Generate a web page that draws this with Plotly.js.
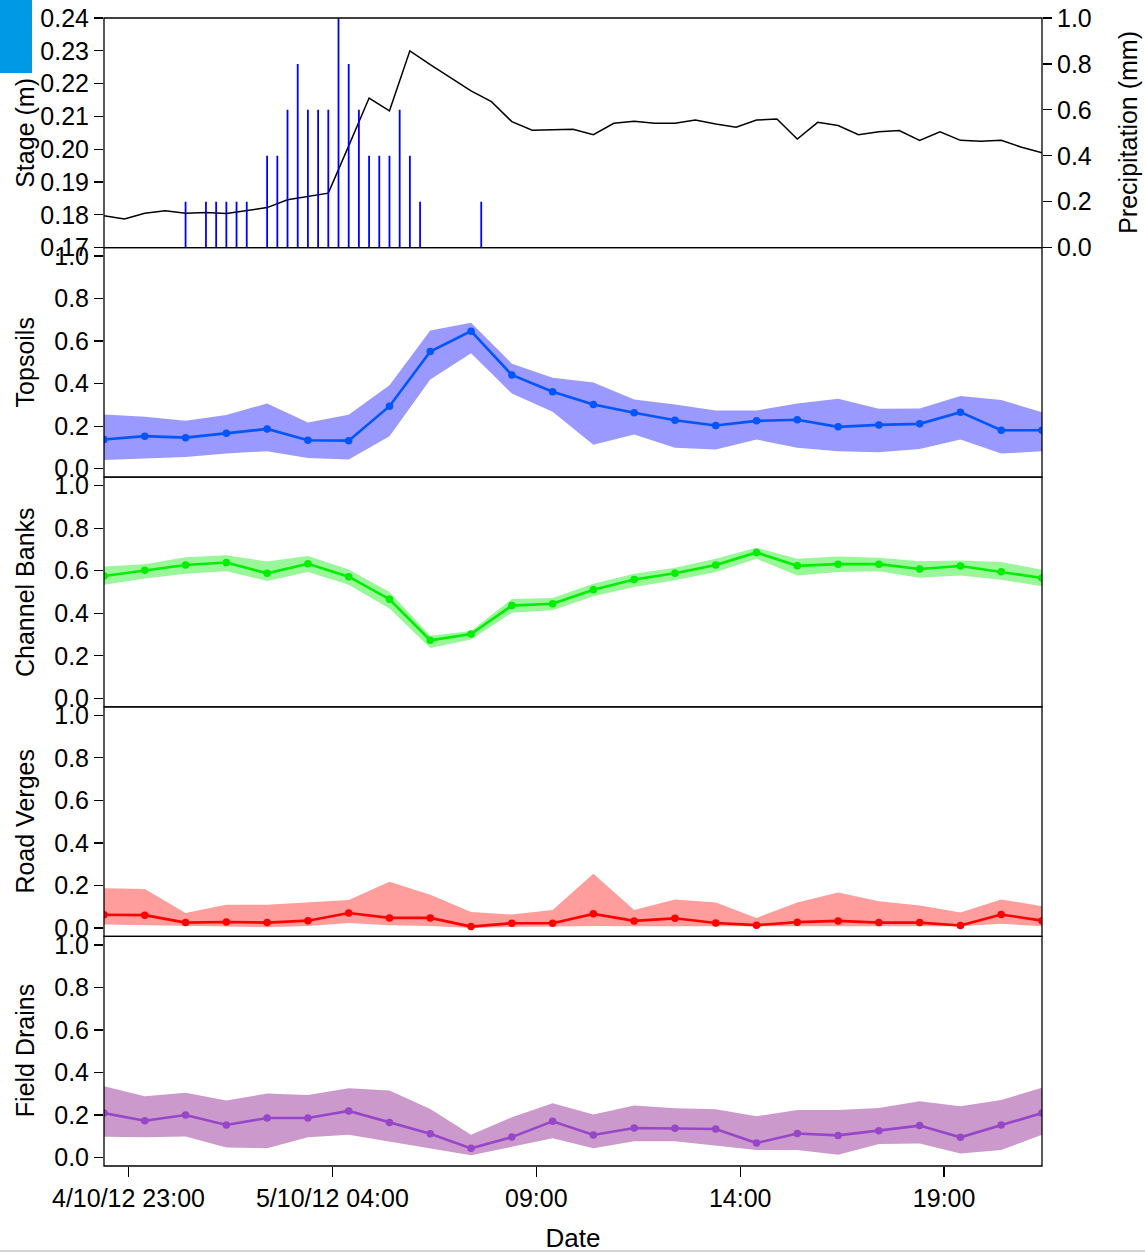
<!DOCTYPE html>
<html><head><meta charset="utf-8">
<script src="https://cdn.plot.ly/plotly-3.0.1.min.js"></script>
<style>html,body{margin:0;padding:0;background:#fff}#chart{width:1145px;height:1253px}</style>
</head><body><div id="chart"></div>
<script>
// ---------- data ----------
const stageTimes = [
 '2012-10-04 22:24','2012-10-04 22:54','2012-10-04 23:24','2012-10-04 23:54',
 '2012-10-05 00:24','2012-10-05 00:54','2012-10-05 01:24','2012-10-05 01:54',
 '2012-10-05 02:24','2012-10-05 02:54','2012-10-05 03:24','2012-10-05 03:54',
 '2012-10-05 04:24','2012-10-05 04:54','2012-10-05 05:24','2012-10-05 05:54',
 '2012-10-05 06:24','2012-10-05 06:54','2012-10-05 07:24','2012-10-05 07:54',
 '2012-10-05 08:24','2012-10-05 08:54','2012-10-05 09:24','2012-10-05 09:54',
 '2012-10-05 10:24','2012-10-05 10:54','2012-10-05 11:24','2012-10-05 11:54',
 '2012-10-05 12:24','2012-10-05 12:54','2012-10-05 13:24','2012-10-05 13:54',
 '2012-10-05 14:24','2012-10-05 14:54','2012-10-05 15:24','2012-10-05 15:54',
 '2012-10-05 16:24','2012-10-05 16:54','2012-10-05 17:24','2012-10-05 17:54',
 '2012-10-05 18:24','2012-10-05 18:54','2012-10-05 19:24','2012-10-05 19:54',
 '2012-10-05 20:24','2012-10-05 20:54','2012-10-05 21:24'];
const stageValues = [0.1797,0.1787,0.1805,0.1812,0.1805,0.1807,0.1804,0.1812,
 0.1822,0.1846,0.1856,0.1866,0.2010,0.2156,0.2117,0.2300,0.2258,0.2217,0.2178,
 0.2145,0.2084,0.2058,0.2060,0.2061,0.2044,0.2079,0.2085,0.2079,0.2079,0.2089,
 0.2077,0.2067,0.2089,0.2092,0.2031,0.2082,0.2072,0.2044,0.2053,0.2057,0.2027,
 0.2053,0.2027,0.2024,0.2027,0.2006,0.1989];

const precipTimes = [
 '2012-10-05 00:24','2012-10-05 00:54','2012-10-05 01:09','2012-10-05 01:24',
 '2012-10-05 01:39','2012-10-05 01:54','2012-10-05 02:24','2012-10-05 02:39',
 '2012-10-05 02:54','2012-10-05 03:09','2012-10-05 03:24','2012-10-05 03:39',
 '2012-10-05 03:54','2012-10-05 04:09','2012-10-05 04:24','2012-10-05 04:39',
 '2012-10-05 04:54','2012-10-05 05:09','2012-10-05 05:24','2012-10-05 05:39',
 '2012-10-05 05:54','2012-10-05 06:09','2012-10-05 07:39'];
const precipValues = [0.2,0.2,0.2,0.2,0.2,0.2,0.4,0.4,0.6,0.8,0.6,0.6,0.6,1.0,
 0.8,0.6,0.4,0.4,0.4,0.6,0.4,0.2,0.2];

const soilTimes = [
 '2012-10-04 22:24','2012-10-04 23:24','2012-10-05 00:24','2012-10-05 01:24',
 '2012-10-05 02:24','2012-10-05 03:24','2012-10-05 04:24','2012-10-05 05:24',
 '2012-10-05 06:24','2012-10-05 07:24','2012-10-05 08:24','2012-10-05 09:24',
 '2012-10-05 10:24','2012-10-05 11:24','2012-10-05 12:24','2012-10-05 13:24',
 '2012-10-05 14:24','2012-10-05 15:24','2012-10-05 16:24','2012-10-05 17:24',
 '2012-10-05 18:24','2012-10-05 19:24','2012-10-05 20:24','2012-10-05 21:24'];

const topsoilsMean  = [0.137,0.153,0.146,0.167,0.187,0.134,0.132,0.294,0.551,0.647,0.441,0.362,0.302,0.263,0.228,0.203,0.225,0.230,0.197,0.206,0.211,0.266,0.181,0.181];
const topsoilsUpper = [0.255,0.244,0.225,0.252,0.307,0.217,0.254,0.392,0.650,0.687,0.494,0.428,0.405,0.326,0.302,0.274,0.274,0.307,0.329,0.282,0.283,0.342,0.323,0.266];
const topsoilsLower = [0.041,0.049,0.055,0.072,0.082,0.050,0.043,0.153,0.420,0.543,0.354,0.268,0.113,0.161,0.098,0.090,0.137,0.098,0.082,0.077,0.093,0.137,0.071,0.082];

const banksMean  = [0.575,0.602,0.627,0.639,0.588,0.633,0.572,0.466,0.273,0.302,0.436,0.445,0.511,0.559,0.588,0.627,0.686,0.623,0.631,0.631,0.608,0.622,0.595,0.566];
const banksUpper = [0.620,0.630,0.664,0.673,0.644,0.669,0.606,0.500,0.294,0.317,0.467,0.472,0.539,0.586,0.614,0.656,0.708,0.656,0.667,0.661,0.645,0.648,0.641,0.605];
const banksLower = [0.534,0.563,0.586,0.598,0.552,0.594,0.534,0.422,0.236,0.277,0.402,0.414,0.480,0.523,0.555,0.594,0.656,0.578,0.594,0.598,0.567,0.578,0.558,0.527];

const vergesMean  = [0.062,0.060,0.025,0.028,0.025,0.034,0.070,0.047,0.047,0.006,0.022,0.022,0.066,0.033,0.045,0.023,0.013,0.027,0.033,0.025,0.025,0.011,0.063,0.034];
const vergesUpper = [0.186,0.183,0.070,0.109,0.109,0.119,0.131,0.217,0.156,0.075,0.063,0.084,0.255,0.084,0.134,0.119,0.047,0.120,0.167,0.125,0.105,0.072,0.134,0.102];
const vergesLower = [0.016,0.013,0.008,0.006,0.003,0.009,0.023,0.013,0.009,0.000,0.005,0.006,0.009,0.008,0.008,0.008,0.008,0.008,0.008,0.008,0.008,0.008,0.019,0.008];

const drainsMean  = [0.209,0.173,0.200,0.153,0.186,0.186,0.219,0.165,0.112,0.043,0.096,0.170,0.106,0.139,0.137,0.134,0.068,0.113,0.104,0.126,0.150,0.095,0.153,0.209];
const drainsUpper = [0.335,0.288,0.305,0.268,0.301,0.294,0.326,0.315,0.228,0.107,0.189,0.255,0.202,0.244,0.232,0.227,0.194,0.224,0.224,0.233,0.265,0.241,0.271,0.328];
const drainsLower = [0.098,0.095,0.099,0.047,0.043,0.095,0.107,0.076,0.044,0.011,0.050,0.091,0.044,0.076,0.076,0.055,0.035,0.035,0.013,0.063,0.066,0.019,0.035,0.107];

const xTickVals = ['2012-10-04 23:00','2012-10-05 04:00','2012-10-05 09:00','2012-10-05 14:00','2012-10-05 19:00'];
const xTickText = ['4/10/12 23:00','5/10/12 04:00','09:00','14:00','19:00'];

// ---------- build ----------
const FONT = 'Liberation Sans, Arial, Helvetica, sans-serif';
const panels = [
  {name:'Topsoils',       mean:topsoilsMean, hi:topsoilsUpper, lo:topsoilsLower, line:'#0055FF', band:'#9999FF', axis:'y2', domain:[0.6,0.8]},
  {name:'Channel Banks',  mean:banksMean,    hi:banksUpper,    lo:banksLower,    line:'#00EE00', band:'#99F799', axis:'y3', domain:[0.4,0.6]},
  {name:'Road Verges',    mean:vergesMean,   hi:vergesUpper,   lo:vergesLower,   line:'#FF0000', band:'#FF9C9C', axis:'y4', domain:[0.2,0.4]},
  {name:'Field Drains',   mean:drainsMean,   hi:drainsUpper,   lo:drainsLower,   line:'#9647C8', band:'#CC99CC', axis:'y5', domain:[0.0,0.2]}
];

const traces = [];
traces.push({x:stageTimes, y:stageValues, type:'scatter', mode:'lines',
  line:{color:'#000', width:1.5}, xaxis:'x', yaxis:'y', name:'Stage'});
// precipitation drawn as R-style "type='h'" spikes from 0 to each value
const spikeX = [], spikeY = [];
precipTimes.forEach((t, i) => { spikeX.push(t, t, null); spikeY.push(0, precipValues[i], null); });
traces.push({x:spikeX, y:spikeY, type:'scatter', mode:'lines', connectgaps:false,
  line:{color:'#0000FF', width:1.8}, xaxis:'x', yaxis:'y6', name:'Precipitation'});
panels.forEach(p => {
  traces.push({x:soilTimes, y:p.lo, type:'scatter', mode:'lines', line:{width:0, color:p.band},
    xaxis:'x', yaxis:p.axis, hoverinfo:'skip', name:p.name+' lower'});
  traces.push({x:soilTimes, y:p.hi, type:'scatter', mode:'lines', line:{width:0, color:p.band},
    fill:'tonexty', fillcolor:p.band, xaxis:'x', yaxis:p.axis, hoverinfo:'skip', name:p.name+' upper'});
  traces.push({x:soilTimes, y:p.mean, type:'scatter', mode:'lines+markers',
    line:{color:p.line, width:2.6}, marker:{color:p.line, size:7.5},
    xaxis:'x', yaxis:p.axis, name:p.name});
});

const tickFont = {family:FONT, size:25, color:'#000'};
const titleFont = {family:FONT, size:25, color:'#000'};
function yAx(extra){
  return Object.assign({ticks:'outside', ticklen:9, tickwidth:1.3, tickcolor:'#000',
    showgrid:false, zeroline:false, showline:false, tickfont:tickFont, fixedrange:true}, extra);
}

const layout = {
  width:1145, height:1253,
  margin:{l:104, r:103, t:18, b:87},
  paper_bgcolor:'#fff', plot_bgcolor:'#fff', showlegend:false,
  font:{family:FONT, color:'#000'},
  xaxis:{type:'date', range:['2012-10-04 22:24','2012-10-05 21:24'], anchor:'y5',
    tickmode:'array', tickvals:xTickVals, ticktext:xTickText,
    ticks:'outside', ticklen:10, tickwidth:1.3, tickcolor:'#000',
    showgrid:false, zeroline:false, showline:false, tickfont:tickFont,
    title:{text:'Date', font:{family:FONT, size:26, color:'#000'}, standoff:22}},
  yaxis: yAx({domain:[0.8,1], range:[0.17,0.24], tick0:0.17, dtick:0.01, tickformat:'.2f'}),
  yaxis6: yAx({overlaying:'y', side:'right', anchor:'x', range:[0,1], tick0:0, dtick:0.2, tickformat:'.1f'}),
  shapes:[], annotations:[]
};
panels.forEach((p,i) => {
  layout['yaxis'+(i+2)] = yAx({domain:p.domain, range:[-0.04,1.04], tick0:0, dtick:0.2, tickformat:'.1f'});
});
// y-axis titles placed in one column, as in the source
const yTitles = [['Stage (m)',[0.8,1]], ...panels.map(p => [p.name, p.domain])];
yTitles.forEach(([txt, d]) => {
  layout.annotations.push({text:txt, xref:'paper', yref:'paper', x:(25-104)/938, y:(d[0]+d[1])/2,
    xanchor:'center', yanchor:'middle', textangle:-90, showarrow:false, font:titleFont});
});
layout.annotations.push({text:'Precipitation (mm)', xref:'paper', yref:'paper', x:(1128-104)/938, y:0.9,
  xanchor:'center', yanchor:'middle', textangle:-90, showarrow:false, font:titleFont});
// panel boxes
[[0.8,1],[0.6,0.8],[0.4,0.6],[0.2,0.4],[0,0.2]].forEach(d => {
  layout.shapes.push({type:'rect', xref:'paper', yref:'paper', x0:0, x1:1, y0:d[0], y1:d[1],
    line:{color:'#000', width:1.3}, fillcolor:'rgba(0,0,0,0)', layer:'above'});
});
// blue corner block and bottom rule seen in the source image
layout.shapes.push({type:'rect', xref:'paper', yref:'paper', x0:-104/938, x1:(32-104)/938,
  y0:(1166-73)/1148, y1:1166/1148, fillcolor:'#0099E5', line:{width:0}, layer:'above'});
layout.shapes.push({type:'line', xref:'paper', yref:'paper', x0:-104/938, x1:(1145-104)/938,
  y0:(1166-1251)/1148, y1:(1166-1251)/1148, line:{color:'#d4d4d4', width:2}});

Plotly.newPlot('chart', traces, layout, {displayModeBar:false, staticPlot:true});
</script>
</body></html>
